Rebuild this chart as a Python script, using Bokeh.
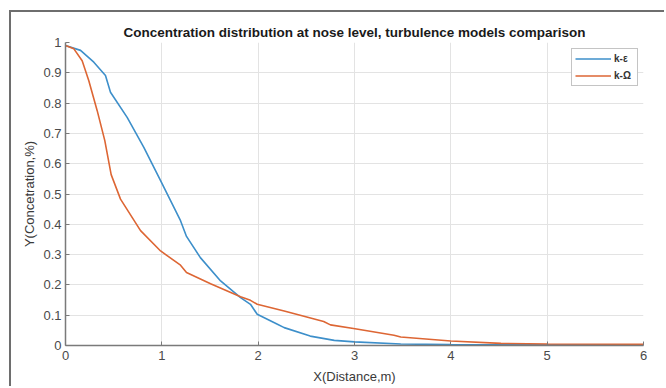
from bokeh.plotting import figure
from bokeh.models import Range1d, FixedTicker, Legend, LegendItem
from bokeh.embed import file_html
from bokeh.resources import INLINE

# ---- data ----
x_ke = [0.0, 0.156, 0.294, 0.415, 0.467, 0.64, 0.813, 0.987, 1.194, 1.256, 1.40, 1.61,
        1.817, 1.92, 1.99, 2.2, 2.27, 2.54, 2.79, 3.0, 3.48, 4.0, 4.5, 5.0, 5.5, 6.0]
y_ke = [0.99, 0.974, 0.935, 0.891, 0.836, 0.753, 0.654, 0.544, 0.412, 0.36, 0.29, 0.213,
        0.158, 0.136, 0.103, 0.07, 0.059, 0.031, 0.017, 0.012, 0.005, 0.003, 0.002, 0.002, 0.002, 0.002]

x_kw = [0.0, 0.087, 0.173, 0.242, 0.329, 0.408, 0.474, 0.571, 0.779, 0.987, 1.194, 1.256,
        1.506, 1.817, 1.92, 1.99, 2.27, 2.68, 2.75, 2.99, 3.41, 3.48, 4.0, 4.52, 5.0, 6.0]
y_kw = [0.99, 0.979, 0.94, 0.874, 0.775, 0.676, 0.564, 0.483, 0.379, 0.312, 0.265, 0.241,
        0.204, 0.161, 0.149, 0.136, 0.114, 0.079, 0.068, 0.056, 0.034, 0.028, 0.015, 0.007, 0.005, 0.004]

series_names = ["k-\u03b5", "k-\u03a9"]
x_ticks = [0, 1, 2, 3, 4, 5, 6]
y_ticks = [0, 0.1, 0.2, 0.3, 0.4, 0.5, 0.6, 0.7, 0.8, 0.9, 1.0]
y_tick_labels = ["0", "0.1", "0.2", "0.3", "0.4", "0.5", "0.6", "0.7", "0.8", "0.9", "1"]

title_text = "Concentration distribution at nose level, turbulence models comparison"
x_label = "X(Distance,m)"
y_label = "Y(Concetration,%)"

FONT = "Liberation Sans"
BLUE = "#3d8fca"
ORANGE = "#dd6634"

p = figure(width=655, height=376, output_backend="svg", toolbar_location=None,
           x_range=Range1d(0, 6), y_range=Range1d(0, 1),
           min_border_left=54, min_border_right=23, min_border_top=30, min_border_bottom=43)
p.styles = {"margin-top": "10px", "margin-left": "9px",
            "border-top": "2px solid #6e6e6e", "border-left": "2px solid #6e6e6e"}

p.title.text = title_text
p.title.align = "center"
p.title.text_font = FONT
p.title.text_font_size = "13.5px"
p.title.text_font_style = "bold"
p.title.text_color = "#1a1a1a"
p.title.standoff = 6

p.outline_line_color = None
p.background_fill_color = "white"
p.border_fill_color = "white"

for ax in (p.xaxis[0], p.yaxis[0]):
    ax.axis_line_color = "#7a7a7a"
    ax.axis_line_width = 1.5
    ax.major_tick_line_color = "#7a7a7a"
    ax.major_tick_in = 4
    ax.major_tick_out = 0
    ax.minor_tick_line_color = None
    ax.major_label_text_font = FONT
    ax.major_label_text_font_size = "13px"
    ax.major_label_text_color = "#4a4a4a"
    ax.axis_label_text_font = FONT
    ax.axis_label_text_font_style = "normal"
    ax.axis_label_text_color = "#3a3a3a"
    ax.axis_label_text_font_size = "13px"

p.xaxis.ticker = FixedTicker(ticks=x_ticks)
p.yaxis.ticker = FixedTicker(ticks=y_ticks)
p.yaxis.major_label_overrides = {t: l for t, l in zip(y_ticks, y_tick_labels)}
p.xaxis.axis_label = x_label
p.yaxis.axis_label = y_label
p.xaxis.major_label_standoff = 5
p.xaxis.axis_label_standoff = 6
p.yaxis.major_label_standoff = 4
p.yaxis.axis_label_standoff = 3

p.xgrid.grid_line_color = "#e3e3e3"
p.ygrid.grid_line_color = "#e3e3e3"

r1 = p.line(x_ke, y_ke, line_color=BLUE, line_width=1.6)
r2 = p.line(x_kw, y_kw, line_color=ORANGE, line_width=1.6)

legend = Legend(items=[LegendItem(label=series_names[0], renderers=[r1]),
                       LegendItem(label=series_names[1], renderers=[r2])],
                location=(506, 259), margin=0, padding=3, spacing=4,
                glyph_width=36, glyph_height=13, label_height=13, label_standoff=3,
                label_text_font=FONT, label_text_font_size="10px", label_text_font_style="bold",
                label_text_color="#333333",
                border_line_color="#8a8a8a", border_line_width=1,
                background_fill_color="white", background_fill_alpha=1.0)
p.add_layout(legend)

open("out.html", "w").write(file_html(p, INLINE))
